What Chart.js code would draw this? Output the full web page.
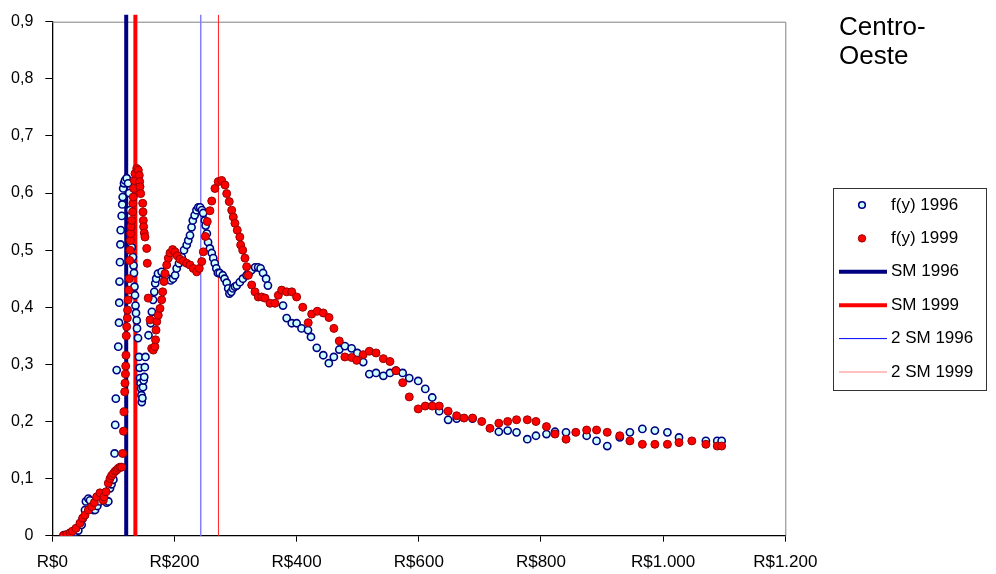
<!DOCTYPE html>
<html>
<head>
<meta charset="utf-8">
<title>Centro-Oeste</title>
<script src="https://cdn.jsdelivr.net/npm/chart.js@4.4.0/dist/chart.umd.min.js"></script>
<style>
  html, body { margin: 0; padding: 0; background: #fff; }
  #wrap { position: relative; width: 996px; height: 574px; }
</style>
</head>
<body>
<div id="wrap"><canvas id="chart" width="996" height="574"></canvas></div>
<script>
// renda (R$) e densidade f(y), 1996
const renda1996 = [19,25,31.7,37,42.6,48,49.8,53.5,55,59,
  61.7,64.5,67,70,73.7,78,83.5,86,89,91.7,
  94.5,97,100,102,103,104,105.4,108,109.2,109.6,
  110,110.8,111.5,112,113.6,114.5,115.2,116,117.4,119,
  121.8,124,126,127.5,128.5,130,132,133,133.7,134.5,
  135.4,136.2,137,138.2,138.7,140.3,142,143,143.6,144.5,
  145.3,146,146.5,147.5,148.5,149.5,150.5,151.5,152.5,157.5,
  161,163,165,167,168.5,170,173,179,184.5,189.4,
  193.8,197.6,201,203.6,207.4,211.8,215.6,220,222.6,225.4,
  228,230,233,236,239,242,245,247,249.7,251,
  253,255,258,261,263.5,266,268.5,271,274,279,
  282,285.5,288,290,293,295.8,299,302,307,312,
  318,322,326,332,337,341,345,350,353,377.7,
  383.7,392,400,408,418.6,423.5,433,443.6,452.7,460.9,
  469.8,479,490,499.3,509,519,530,542,552.8,562.6,
  573.6,584.4,599,610.6,622,633.5,648,662,688,731,
  745.5,760,777.6,791.8,809,823,841,874.8,891,908.5,
  929,945.6,966,986.5,1007,1026,1070,1088.6,1095.8];
const fy1996 = [0.001,0.002,0.004,0.006,0.009,0.019,0.03,0.045,0.06,0.065,
  0.062,0.051,0.045,0.045,0.052,0.06,0.068,0.062,0.058,0.06,
  0.083,0.09,0.098,0.144,0.194,0.24,0.29,0.331,0.373,0.408,
  0.445,0.479,0.51,0.535,0.56,0.58,0.593,0.608,0.617,0.622,
  0.626,0.617,0.6,0.57,0.54,0.505,0.488,0.473,0.46,0.436,
  0.421,0.403,0.39,0.377,0.363,0.346,0.313,0.294,0.276,0.267,
  0.258,0.246,0.234,0.241,0.26,0.272,0.278,0.295,0.313,0.351,
  0.372,0.392,0.413,0.427,0.442,0.45,0.459,0.462,0.456,0.45,
  0.447,0.45,0.456,0.468,0.477,0.488,0.5,0.509,0.517,0.526,
  0.54,0.552,0.561,0.57,0.575,0.575,0.57,0.565,0.552,0.543,
  0.529,0.514,0.503,0.495,0.486,0.477,0.468,0.46,0.46,0.456,
  0.45,0.443,0.433,0.424,0.427,0.433,0.436,0.438,0.444,0.45,
  0.456,0.46,0.465,0.47,0.47,0.468,0.46,0.45,0.438,0.403,
  0.381,0.372,0.372,0.363,0.36,0.348,0.329,0.316,0.302,0.313,
  0.326,0.332,0.328,0.32,0.304,0.283,0.285,0.28,0.285,0.289,
  0.285,0.276,0.271,0.257,0.242,0.218,0.203,0.205,0.205,0.182,
  0.184,0.181,0.169,0.175,0.178,0.182,0.181,0.175,0.166,0.157,
  0.172,0.181,0.187,0.184,0.181,0.172,0.166,0.166,0.166];

// renda (R$) e densidade f(y), 1999
const renda1999 = [18,23.6,29,33,38.8,45.3,49.8,53.5,59,64.5,
  68.8,72.7,78,83.5,84.6,88,91.7,94.5,97,99.9,
  103,105.4,108,110.8,113.6,115.2,116.5,117.4,118.5,119,
  119.8,120.2,120.6,121.2,121.8,122.8,123.2,124,125,126,
  126.6,127.2,127.8,128.3,129,130,131.6,132,132.6,133.2,
  134.2,135.4,138.2,140.8,142.4,143,143.6,144.7,148,148.5,
  149,149.5,150.6,151.7,154.5,155.5,157,160,162.7,165.3,
  168,169,169.8,171,173.5,176.3,179,180.7,182.9,184.5,
  187.3,189.9,192.7,197,200.9,204.6,209,214.4,220,225.4,
  230.8,236.4,240.6,244.6,247.2,250.5,253.7,258,261,266.3,271.7,
  277.3,282.7,285.5,289.7,293.7,296.3,299,302.8,307,308.4,
  311.7,315.4,318.2,320.9,326.4,331.8,337.2,342.8,348.2,356.4,
  364.6,370,375.5,383.7,392,400,410,419,424.6,433.8,
  443.6,453,461,469.8,479,490,498.3,509,519,530,
  542,552.8,562.6,573.6,584.4,599,610.6,622,633.5,648,
  662,674,688,703,716.5,731,745.5,760,777.6,791.8,
  809,823,841,857,874.8,891,908.5,929,945.6,966,
  986.5,1007,1026,1047,1070,1088.6,1095.8];
const fy1999 = [0,0.002,0.005,0.008,0.013,0.022,0.031,0.036,0.045,0.051,
  0.058,0.068,0.075,0.062,0.068,0.077,0.092,0.1,0.105,0.109,
  0.113,0.115,0.118,0.12,0.12,0.144,0.183,0.217,0.252,0.267,
  0.283,0.297,0.316,0.35,0.366,0.381,0.395,0.413,0.43,0.45,
  0.482,0.5,0.517,0.529,0.541,0.552,0.567,0.582,0.593,0.608,
  0.622,0.634,0.643,0.64,0.631,0.62,0.611,0.599,0.582,0.567,
  0.552,0.541,0.53,0.523,0.503,0.477,0.416,0.378,0.328,0.325,
  0.331,0.343,0.36,0.375,0.386,0.398,0.413,0.427,0.445,0.459,
  0.474,0.486,0.495,0.501,0.497,0.49,0.484,0.481,0.477,0.474,
  0.468,0.462,0.468,0.48,0.497,0.524,0.55,0.569,0.586,0.608,0.62,
  0.622,0.614,0.599,0.585,0.57,0.558,0.547,0.535,0.523,0.509,
  0.5,0.486,0.471,0.456,0.439,0.427,0.418,0.418,0.416,0.407,
  0.407,0.421,0.43,0.427,0.427,0.418,0.4,0.373,0.388,0.393,
  0.39,0.382,0.363,0.341,0.313,0.312,0.307,0.317,0.323,0.32,
  0.31,0.305,0.289,0.268,0.243,0.222,0.227,0.227,0.227,0.218,
  0.21,0.206,0.206,0.2,0.188,0.197,0.2,0.203,0.203,0.2,
  0.191,0.178,0.169,0.181,0.185,0.185,0.181,0.175,0.166,0.16,
  0.16,0.16,0.163,0.166,0.16,0.157,0.157];

// salario minimo (SM) e 2 SM em R$: [1996, 1999]
const salarioMinimo = [121, 136];
const doisSalarios = [243, 272];
const linhaAltura = [0, 0.912];

const xTicks = [0, 200, 400, 600, 800, 1000, 1200];
const yTicks = [0, 0.1, 0.2, 0.3, 0.4, 0.5, 0.6, 0.7, 0.8, 0.9];

const legendLabels = ['f(y) 1996', 'f(y) 1999', 'SM 1996', 'SM 1999', '2 SM 1996', '2 SM 1999'];
const titleLines = ['Centro-', 'Oeste'];

const FONT = "'Liberation Sans', Arial, sans-serif";

// cor das amostras de linha na legenda (as do grafico ficam mais claras/escuras)
const legendLineColors = [null, null, '#000080', '#ff0000', '#0000ff', '#ff8080'];

function toPoints(xs, ys) {
    return xs.map((x, i) => ({ x: x, y: ys[i] }));
}

function vLine(x) {
    return linhaAltura.map(y => ({ x: x, y: y }));
}

function formatReais(v) {
    const s = String(Math.round(v));
    return 'R$' + s.replace(/\B(?=(\d{3})+(?!\d))/g, '.');
}

/**
 * moldura, legenda e titulo
 */
const extras = {
    id: 'extras',
    beforeDatasetsDraw(chart) {
        const ctx = chart.ctx;
        const a = chart.chartArea;
        ctx.save();
        ctx.strokeStyle = '#808080';
        ctx.lineWidth = 1;
        ctx.beginPath();
        ctx.moveTo(a.left, a.top + 0.5);
        ctx.lineTo(a.right + 0.5, a.top + 0.5);
        ctx.lineTo(a.right + 0.5, a.bottom);
        ctx.stroke();
        ctx.restore();
    },
    afterDraw(chart) {
        const ctx = chart.ctx;
        ctx.save();

        // titulo
        ctx.fillStyle = '#000';
        ctx.font = '26px ' + FONT;
        ctx.textBaseline = 'alphabetic';
        ctx.textAlign = 'left';
        ctx.fillText(titleLines[0], 839, 35);
        ctx.fillText(titleLines[1], 839, 64);

        // legenda
        ctx.strokeStyle = '#333';
        ctx.lineWidth = 1;
        ctx.strokeRect(833.5, 188.5, 153, 202);

        const sets = chart.data.datasets;
        ctx.font = '17px ' + FONT;
        ctx.textBaseline = 'middle';
        legendLabels.forEach((label, i) => {
            const y = 205 + i * 33.4;
            const ds = sets[i];
            if (i < 2) {
                ctx.beginPath();
                ctx.arc(862, y, ds.pointRadius - 0.3, 0, Math.PI * 2);
                ctx.fillStyle = ds.pointBackgroundColor;
                ctx.fill();
                ctx.lineWidth = ds.pointBorderWidth;
                ctx.strokeStyle = ds.pointBorderColor;
                ctx.stroke();
            } else {
                ctx.beginPath();
                ctx.moveTo(839, y);
                ctx.lineTo(887, y);
                ctx.lineWidth = i < 4 ? 4 : 1;
                ctx.strokeStyle = legendLineColors[i];
                ctx.stroke();
            }
            ctx.fillStyle = '#000';
            ctx.fillText(label, 891, y);
        });
        ctx.restore();
    }
};

const ctx = document.getElementById('chart');

new Chart(ctx, {
    type: 'scatter',
    data: {
        datasets: [
            {
                label: legendLabels[0],
                data: toPoints(renda1996, fy1996),
                pointRadius: 3.6,
                pointBackgroundColor: '#ccffff',
                pointBorderColor: '#000080',
                pointBorderWidth: 1.6,
                order: 1
            },
            {
                label: legendLabels[1],
                data: toPoints(renda1999, fy1999),
                pointRadius: 4,
                pointBackgroundColor: '#ff0000',
                pointBorderColor: '#990000',
                pointBorderWidth: 1,
                order: 0
            },
            {
                label: legendLabels[2],
                data: vLine(salarioMinimo[0]),
                showLine: true,
                pointRadius: 0,
                borderColor: '#000080',
                borderWidth: 4,
                clip: false,
                order: 5
            },
            {
                label: legendLabels[3],
                data: vLine(salarioMinimo[1]),
                showLine: true,
                pointRadius: 0,
                borderColor: '#ff0000',
                borderWidth: 4,
                clip: false,
                order: 4
            },
            {
                label: legendLabels[4],
                data: vLine(doisSalarios[0]),
                showLine: true,
                pointRadius: 0,
                borderColor: '#8080ff',
                borderWidth: 1.5,
                clip: false,
                order: 3
            },
            {
                label: legendLabels[5],
                data: vLine(doisSalarios[1]),
                showLine: true,
                pointRadius: 0,
                borderColor: '#ff2020',
                borderWidth: 1,
                clip: false,
                order: 2
            }
        ]
    },
    options: {
        responsive: false,
        animation: false,
        devicePixelRatio: 1,
        layout: {
            padding: { left: 0, top: 21.7, right: 210.7, bottom: 0 }
        },
        scales: {
            x: {
                type: 'linear',
                min: xTicks[0],
                max: xTicks[xTicks.length - 1],
                afterBuildTicks: s => { s.ticks = xTicks.map(v => ({ value: v })); },
                afterFit: s => { s.height = 38.3; },
                ticks: {
                    callback: v => formatReais(v),
                    font: { family: FONT, size: 17 },
                    color: '#000',
                    padding: 10,
                    maxRotation: 0
                },
                grid: {
                    drawOnChartArea: false,
                    drawTicks: true,
                    tickLength: 6,
                    tickColor: '#000'
                },
                border: { color: '#000', width: 1.3 }
            },
            y: {
                min: yTicks[0],
                max: yTicks[yTicks.length - 1],
                afterBuildTicks: s => { s.ticks = yTicks.map(v => ({ value: v })); },
                afterFit: s => { s.width = 52.3; },
                ticks: {
                    callback: v => v === 0 ? '0' : v.toFixed(1).replace('.', ','),
                    font: { family: FONT, size: 16 },
                    color: '#000',
                    padding: 12
                },
                grid: {
                    drawOnChartArea: false,
                    drawTicks: true,
                    tickLength: 7,
                    tickColor: '#000'
                },
                border: { color: '#000', width: 1.3 }
            }
        },
        plugins: {
            legend: { display: false },
            title: { display: false },
            tooltip: { enabled: false }
        }
    },
    plugins: [extras]
});
</script>
</body>
</html>
